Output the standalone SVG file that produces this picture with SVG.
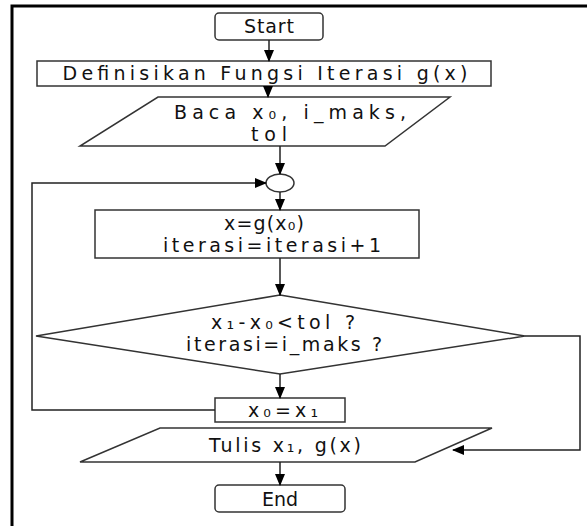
<svg xmlns="http://www.w3.org/2000/svg" width="587" height="526" viewBox="0 0 587 526">
<defs>
<marker id="ah" markerWidth="12" markerHeight="10" refX="11" refY="5" orient="auto" markerUnits="userSpaceOnUse">
<path d="M0,0 L12,5 L0,10 Z" fill="#000"/>
</marker>
<style>
.n{fill:#fff;stroke:#333;stroke-width:1.5}
.t{font-family:"DejaVu Sans",Verdana,sans-serif;font-size:19px;fill:#111;text-anchor:middle}
.c{fill:none;stroke:#222;stroke-width:1.5}
</style>
</defs>
<rect width="587" height="526" fill="#fff"/>
<path d="M12,526 V6 H587" fill="none" stroke="#000" stroke-width="3"/>
<g id="start"><rect class="n" x="215" y="13" width="108" height="27" rx="4"/><text class="t" x="269" y="33" textLength="50" lengthAdjust="spacing">Start</text></g>
<g id="define"><rect class="n" x="37" y="61" width="454" height="25"/><text class="t" x="265" y="80" textLength="405" lengthAdjust="spacing">Definisikan Fungsi Iterasi g(x)</text></g>
<g id="read"><path class="n" d="M158,97 H450 L385,146 H80 Z"/><text class="t" x="290" y="119" textLength="232" lengthAdjust="spacing">Baca x₀, i_maks,</text><text class="t" x="269" y="141" textLength="36" lengthAdjust="spacing">tol</text></g>
<g id="join"><ellipse class="n" cx="280" cy="183" rx="14" ry="9"/></g>
<g id="process"><rect class="n" x="95" y="210" width="324" height="48"/><text class="t" x="264" y="230" textLength="80" lengthAdjust="spacing">x=g(x₀)</text><text class="t" x="272" y="252" textLength="218" lengthAdjust="spacing">iterasi=iterasi+1</text></g>
<g id="decision"><path class="n" d="M280,295 L525,336 L280,374 L36,336 Z"/><text class="t" x="283" y="329" textLength="144" lengthAdjust="spacing">x₁-x₀&lt;tol ?</text><text class="t" x="284" y="351" textLength="196" lengthAdjust="spacing">iterasi=i_maks ?</text></g>
<g id="assign"><rect class="n" x="215" y="398" width="130" height="24"/><text class="t" x="283" y="417" textLength="70" lengthAdjust="spacing">x₀=x₁</text></g>
<g id="write"><path class="n" d="M160,428 H492 L415,462 H80 Z"/><text class="t" x="285" y="452" textLength="152" lengthAdjust="spacing">Tulis x₁, g(x)</text></g>
<g id="end"><rect class="n" x="215" y="485" width="130" height="27" rx="4"/><text class="t" x="280" y="506" textLength="36" lengthAdjust="spacing">End</text></g>
<g id="connectors">
<path class="c" d="M269,40 V61" marker-end="url(#ah)"/>
<path class="c" d="M268,86 V97" marker-end="url(#ah)"/>
<path class="c" d="M280,146 V174" marker-end="url(#ah)"/>
<path class="c" d="M280,192 V210" marker-end="url(#ah)"/>
<path class="c" d="M280,258 V295" marker-end="url(#ah)"/>
<path class="c" d="M280,374 V398" marker-end="url(#ah)"/>
<path class="c" d="M215,410 H32 V183 H266" marker-end="url(#ah)"/>
<path class="c" d="M525,336 H580 V450 H453" marker-end="url(#ah)"/>
<path class="c" d="M280,462 V485" marker-end="url(#ah)"/>
</g>
</svg>
